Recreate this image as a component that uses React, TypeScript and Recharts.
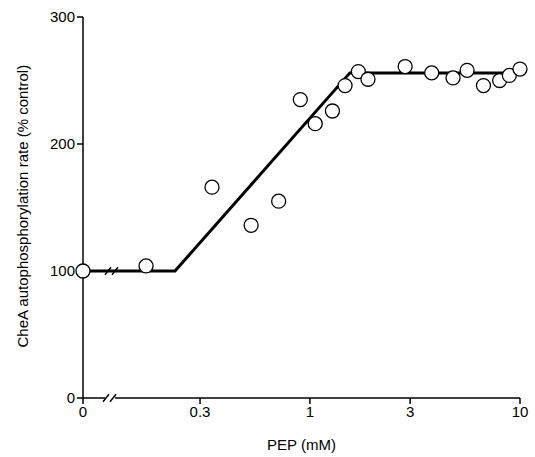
import { ComposedChart, Line, Scatter, XAxis, YAxis, ReferenceLine } from "recharts";

const pointX = [0, 0.166, 0.342, 0.525, 0.71, 0.9, 1.06, 1.28, 1.47, 1.7, 1.89, 2.84, 3.8, 4.8, 5.6, 6.7, 8.0, 8.9, 10];
const pointY = [100, 104, 166, 136, 155, 235, 216, 226, 246, 257, 251, 261, 256, 252, 258, 246, 250, 254, 259];
const fitX = [0, 0.228, 1.55, 9];
const fitY = [100, 100, 256, 256];
const xTicks = [0, 0.3, 1, 3, 10];
const yTicks = [0, 100, 200, 300];

// broken axis: 0 sits 117 units left of 0.3, log scale above that
const pos = (v: number) => (v === 0 ? 0 : 117 + 210 * Math.log10(v / 0.3));

const points = pointX.map((x, i) => ({ u: pos(x), y: pointY[i] }));
const fit = fitX.map((x, i) => ({ u: pos(x), y: fitY[i] }));

const seg = (x1: number, y1: number, x2: number, y2: number) => (
  <ReferenceLine
    key={`${x1}-${y1}`}
    segment={[{ x: x1, y: y1 }, { x: x2, y: y2 }]}
    stroke="#000"
    strokeWidth={1.5}
    ifOverflow="visible"
  />
);

export default function App() {
  return (
    <div style={{ position: "absolute", left: 0, top: 0, fontFamily: "Liberation Sans, Arial, sans-serif" }}>
      <ComposedChart width={535} height={457} margin={{ top: 17, right: 15, bottom: 29, left: 33 }}>
        <XAxis
          type="number"
          dataKey="u"
          domain={[0, pos(10)]}
          ticks={xTicks.map(pos)}
          tickFormatter={(u: number) => String(xTicks[xTicks.map(pos).indexOf(u)] ?? "")}
          axisLine={false}
          tickSize={6}
          tickLine={{ stroke: "#000", strokeWidth: 1.5 }}
          tick={{ fill: "#000", fontSize: 15 }}
          label={{ value: "PEP (mM)", position: "insideBottom", offset: -22, fill: "#000", fontSize: 15 }}
        />
        <YAxis
          type="number"
          domain={[0, 300]}
          ticks={yTicks}
          width={50}
          tickSize={6}
          axisLine={{ stroke: "#000", strokeWidth: 1.5 }}
          tickLine={{ stroke: "#000", strokeWidth: 1.5 }}
          tick={{ fill: "#000", fontSize: 15 }}
          label={{ value: "CheA autophosphorylation rate (% control)", angle: -90, position: "insideLeft", offset: -10, dy: 140, fill: "#000", fontSize: 15 }}
        />
        {seg(0, 0, 22, 0)}
        {seg(32, 0, pos(10), 0)}
        {seg(20, -3, 26, 3)}
        {seg(27, -3, 33, 3)}
        <Line data={fit} dataKey="y" stroke="#000" strokeWidth={3} dot={false} isAnimationActive={false} />
        {seg(22, 97, 28, 103)}
        {seg(29, 97, 35, 103)}
        <Scatter
          data={points}
          dataKey="y"
          isAnimationActive={false}
          shape={(p: any) => <circle cx={p.cx} cy={p.cy} r={7} fill="#fff" stroke="#000" strokeWidth={1.3} />}
        />
      </ComposedChart>
    </div>
  );
}
